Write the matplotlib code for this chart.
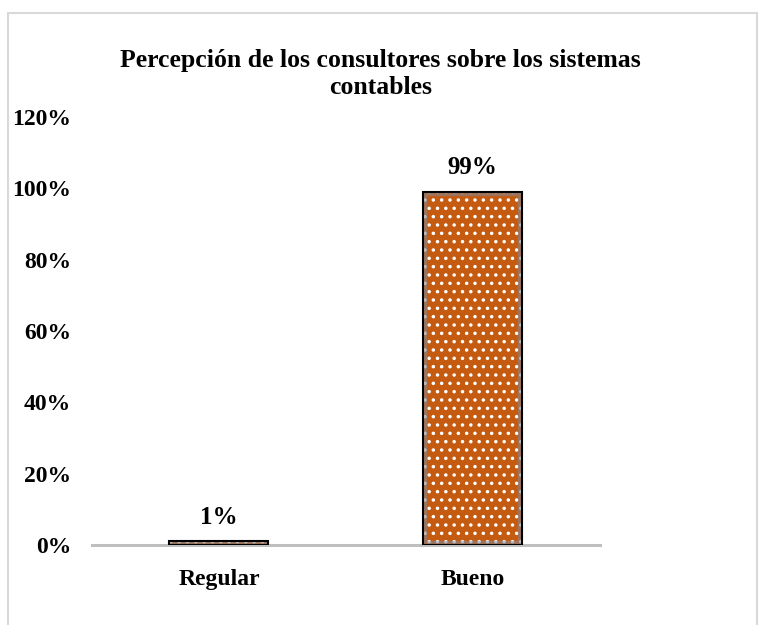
import matplotlib
matplotlib.use('Agg')
import matplotlib.pyplot as plt
from matplotlib.patches import Rectangle
import matplotlib.ticker as mticker

plt.rcParams.update({
    'font.family': ['Liberation Serif', 'DejaVu Serif'],
    'font.weight': 'bold',
    'font.size': 17,
    'hatch.linewidth': 1.3,
})

categories = ['Regular', 'Bueno']
values = [0.01, 0.99]
value_labels = ['1%', '99%']
yticks = [0, 0.2, 0.4, 0.6, 0.8, 1.0, 1.2]

BAR_COLOR = '#C55A11'
AXIS_GRAY = '#BFBFBF'

fig = plt.figure(figsize=(7.61, 6.25), dpi=100)
ax = fig.add_axes([0.121, 0.128, 0.667, 0.685])

x = range(len(categories))
# filled bars with white dotted pattern
fill = ax.bar(x, values, width=0.39, color=BAR_COLOR, edgecolor='white',
              linewidth=0, hatch='..', zorder=2)
# soft grey inner glow along the edges
glow = ax.bar(x, values, width=0.39, fill=False, edgecolor='#7F8A9C',
              linewidth=6, alpha=0.55, zorder=2.5)
for g, f in zip(glow, fill):
    g.set_clip_path(f)
# black outline
ax.bar(x, values, width=0.39, fill=False, edgecolor='black',
       linewidth=1.5, zorder=3)

for xi, v, lbl in zip(x, values, value_labels):
    ax.annotate(lbl, (xi, v), xytext=(0, 9), textcoords='offset points',
                ha='center', va='bottom', fontsize=18, fontweight='bold')

ax.set_xlim(-0.5, 1.5)
ax.set_ylim(0, 1.2)
ax.set_yticks(yticks)
ax.yaxis.set_major_formatter(mticker.PercentFormatter(xmax=1.0, decimals=0))
ax.set_xticks(list(x))
ax.set_xticklabels(categories)
ax.tick_params(axis='both', length=0, labelsize=17)
ax.tick_params(axis='x', pad=17)
ax.tick_params(axis='y', pad=15)

for s in ['top', 'right', 'left']:
    ax.spines[s].set_visible(False)
ax.spines['bottom'].set_color(AXIS_GRAY)
ax.spines['bottom'].set_linewidth(2.2)
ax.spines['bottom'].set_zorder(1)

fig.text(0.5, 0.882, 'Percepción de los consultores sobre los sistemas\ncontables',
         ha='center', va='center', fontsize=18.5, fontweight='bold', linespacing=1.22)

# chart frame
fig.patches.append(Rectangle((8 / 761, -0.01), (757 - 8) / 761, 1 - 13 / 625 + 0.01,
                             transform=fig.transFigure, fill=False,
                             edgecolor='#D9D9D9', linewidth=1.5))

fig.savefig('out.png', dpi=100)
